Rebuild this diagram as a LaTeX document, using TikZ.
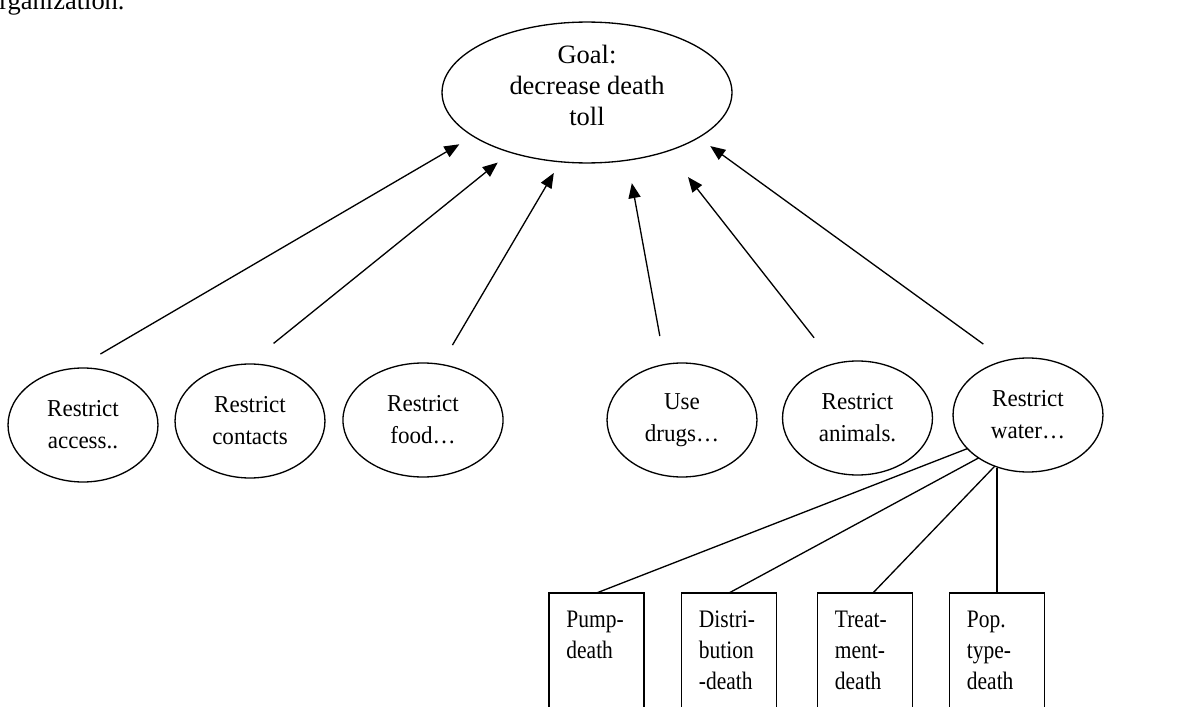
\documentclass[tikz,border=0pt]{standalone}
\usepackage{fontspec}
\setmainfont{Liberation Serif}
\newfontfamily\measurefont[FakeStretch=0.95]{Liberation Serif}
\newfontfamily\causefont[FakeStretch=0.855]{Liberation Serif}
\usetikzlibrary{shapes.geometric, arrows.meta, positioning}
\tikzset{
  goalnode/.style={
    ellipse, draw=black, line width=0.6pt, inner sep=0pt, outer sep=0pt,
    minimum width=131.5pt, minimum height=63.9pt, align=center,
    font=\fontsize{12}{14}\selectfont, text depth=6.4pt
  },
  measure/.style={
    ellipse, draw=black, line width=0.6pt, inner sep=0pt, outer sep=0pt,
    minimum width=68pt, minimum height=51.7pt, align=center,
    font=\measurefont\fontsize{11}{14.5}\selectfont
  },
  cause/.style={
    rectangle, draw=black, line width=0.6pt, inner sep=0pt, outer sep=0pt,
    minimum width=43.1pt, minimum height=68pt, anchor=north
  },
  causetext/.style={
    anchor=north west, inner sep=0pt, align=left,
    font=\causefont\fontsize{11.4}{14}\selectfont
  },
  arrow/.style={
    -{Triangle[length=6.8pt, width=5.5pt]}, line width=0.6pt
  },
  link/.style={
    line width=0.6pt
  }
}

\begin{document}
\begin{tikzpicture}[x=0.4535pt, y=-0.4535pt]
\useasboundingbox (0,0) rectangle (1181,707);
\clip (0,0) rectangle (1181,707);

\node[anchor=base east, inner sep=0pt, font=\fontsize{12}{14}\selectfont] (intro) at (125,10) {organization.};

\node[goalnode] (goal) at (587,92.5) {Goal:\\decrease death\\toll};

\node[measure] (access) at (83,425) {Restrict\\access..};
\node[measure] (contacts) at (250,421) {Restrict\\contacts};
\node[measure, minimum width=72.6pt] (food) at (423,420) {Restrict\\food…};
\node[measure] (drugs) at (682,420) {Use\\drugs…};
\node[measure] (animals) at (857.5,418) {Restrict\\animals.};
\node[measure] (water) at (1028,415) {Restrict\\water…};

\node[cause] (pump) at (596.5,593) {};
\node[cause] (distri) at (729,593) {};
\node[cause] (treat) at (865,593) {};
\node[cause] (pop) at (997,593) {};

\node[causetext] (pumplabel) at ([shift={(17,17.5)}]pump.north west) {Pump-\\death};
\node[causetext] (distrilabel) at ([shift={(17,17.5)}]distri.north west) {Distri-\\bution\\-death};
\node[causetext] (treatlabel) at ([shift={(17,17.5)}]treat.north west) {Treat-\\ment-\\death};
\node[causetext] (poplabel) at ([shift={(17,17.5)}]pop.north west) {Pop.\\type-\\death};

\draw[arrow, shorten <=12.8pt, shorten >=7.3pt] (access.97.6) -- (goal.201.4);
\draw[arrow, shorten <=14.9pt, shorten >=7.4pt] (contacts.92.6) -- (goal.218.7);
\draw[arrow, shorten <=10.2pt, shorten >=5.9pt] (food.72.6) -- (goal.249.9);
\draw[arrow, shorten <=13.1pt, shorten >=10.6pt] (drugs.107) -- (goal.301.8);
\draw[arrow, shorten <=15pt, shorten >=15pt] (animals.113.7) -- (goal.324.1);
\draw[arrow, shorten <=12.7pt, shorten >=6.6pt] (water.112) -- (goal.338.8);

\draw[link] (water.209) -- (pump.north);
\draw[link] (water.221) -- (distri.north);
\draw[link] (water.237) -- ([xshift=3.6pt]treat.north);
\draw[link] (pop.north) -- (pop.north |- water.244);

\end{tikzpicture}
\end{document}
